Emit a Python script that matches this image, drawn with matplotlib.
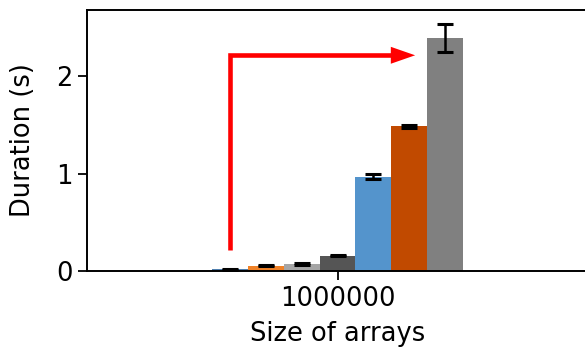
import matplotlib
matplotlib.use("Agg")
import matplotlib.pyplot as plt
from matplotlib.patches import Polygon
import numpy as np

categories = ["1000000"]
series_names = ["s1", "s2", "s3", "s4", "s5", "s6", "s7"]
values = [0.02, 0.055, 0.072, 0.157, 0.967, 1.487, 2.393]
errors = [0.005, 0.006, 0.006, 0.008, 0.026, 0.015, 0.145]
colors = ["#4f7fae", "#f08228", "#a6a6a6", "#555555", "#5494cc", "#c14a00", "#808080"]

fig = plt.figure(figsize=(5.85, 3.48), dpi=100)
ax = fig.add_axes([87/585, 1-271/348, (588-87)/585, (271-10)/348])

width = 0.1
n = len(values)
for i, (v, e, c) in enumerate(zip(values, errors, colors)):
    x = (i - (n - 1) / 2) * width
    ax.bar(x, v, width=width, color=c, yerr=e, capsize=6,
           error_kw=dict(elinewidth=1.8, capthick=2.2, ecolor="black"))

ax.set_xlim(-0.7, 0.7)
ax.set_ylim(0, 2.68)
ax.set_xticks([0])
ax.set_xticklabels(categories)
ax.set_yticks([0, 1, 2])
ax.tick_params(labelsize=18.5, width=1.3, length=6.5, pad=4)
ax.set_xlabel("Size of arrays", fontsize=18.5, labelpad=7)
ax.set_ylabel("Duration (s)", fontsize=18.5, labelpad=14)
for s in ax.spines.values():
    s.set_linewidth(1.4)

# red arrow annotation (corner line + triangular head)
x0, y0, yc = -0.3, 0.215, 2.215
head_base, head_tip, head_half = 0.149, 0.217, 0.087
ax.plot([x0, x0, head_base], [y0, yc, yc], color="red", lw=3.3,
        solid_capstyle="butt", solid_joinstyle="miter", zorder=5)
ax.add_patch(Polygon([[head_base, yc - head_half], [head_tip, yc], [head_base, yc + head_half]],
                     closed=True, facecolor="red", edgecolor="none", zorder=5))

fig.savefig("out.png", dpi=100)
